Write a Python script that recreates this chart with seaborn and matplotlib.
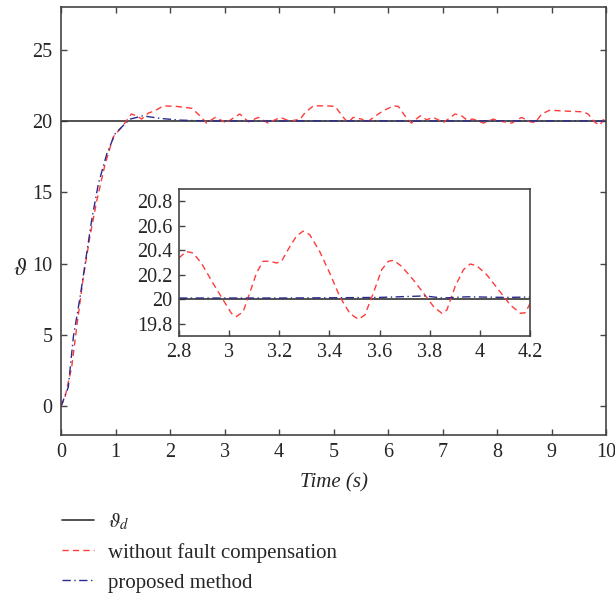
import matplotlib
matplotlib.use("Agg")
import matplotlib.pyplot as plt
import seaborn as sns

# reference value
t_ref = [0, 10]
v_ref = [20, 20]

# without fault compensation
t_nofc = [0, 0.073, 0.196, 0.288, 0.41, 0.53, 0.655, 0.81, 0.96, 1.14,
          1.29, 1.39, 1.48, 1.6, 1.72, 1.88, 2.12, 2.4, 2.55, 2.67,
          2.83, 2.92, 3.04, 3.13, 3.28, 3.44, 3.62, 3.8, 4.02, 4.2,
          4.39, 4.48, 4.63, 4.87, 5.03, 5.18, 5.27, 5.36, 5.52, 5.61,
          5.73, 5.91, 6.1, 6.19, 6.31, 6.43, 6.59, 6.71, 6.83, 7.02,
          7.23, 7.35, 7.44, 7.56, 7.75, 7.93, 8.12, 8.27, 8.45, 8.61,
          8.7, 8.82, 8.97, 9.16, 9.58, 9.67, 9.8, 9.89, 9.95, 10.0]
v_nofc = [0, 0.65, 2.76, 5.56, 9.07, 11.9, 14.4, 17.0, 18.9, 19.7,
          20.5, 20.37, 20.14, 20.56, 20.72, 21.07, 21.03, 20.9, 20.37, 19.86,
          20.26, 20.1, 19.86, 20.14, 20.5, 19.95, 20.26, 19.86, 20.26, 20.0,
          20.14, 20.6, 21.07, 21.07, 21.03, 20.26, 19.9, 20.26, 20.14, 19.9,
          20.26, 20.72, 21.07, 21.03, 20.37, 19.86, 20.37, 20.1, 20.26, 19.9,
          20.5, 20.37, 20.1, 20.14, 19.86, 20.14, 19.95, 19.86, 20.26, 19.95,
          19.9, 20.5, 20.77, 20.72, 20.65, 20.5, 19.9, 19.72, 20.1, 20.0]

# proposed method
t_prop = [0, 0.134, 0.226, 0.35, 0.47, 0.56, 0.685, 0.84, 0.99, 1.17,
          1.27, 1.5, 1.82, 2.18, 2.6, 3.5, 5.0, 6.5, 8.0, 10.0]
v_prop = [0, 1.36, 4.86, 7.67, 10.7, 13.0, 15.6, 17.7, 19.1, 19.8,
          20.14, 20.37, 20.19, 20.07, 20.02, 20.0, 20.02, 20.0, 20.02, 20.0]

# zoomed view
t_zoom_nofc = [2.8, 2.829, 2.856, 2.889, 2.936, 2.976, 3.009, 3.029, 3.056, 3.082,
               3.109, 3.135, 3.162, 3.189, 3.209, 3.235, 3.268, 3.295, 3.321, 3.361,
               3.401, 3.441, 3.481, 3.515, 3.541, 3.575, 3.608, 3.635, 3.655, 3.688,
               3.734, 3.775, 3.815, 3.848, 3.868, 3.901, 3.934, 3.961, 3.987, 4.027,
               4.074, 4.121, 4.161, 4.181, 4.2]
v_zoom_nofc = [20.337, 20.39, 20.378, 20.296, 20.13, 19.995, 19.885, 19.858, 19.899, 20.05,
               20.214, 20.31, 20.31, 20.296, 20.31, 20.405, 20.515, 20.556, 20.528, 20.39,
               20.214, 20.022, 19.885, 19.836, 19.871, 20.05, 20.241, 20.31, 20.318, 20.268,
               20.159, 20.05, 19.94, 19.885, 19.912, 20.104, 20.241, 20.288, 20.274, 20.2,
               20.077, 19.953, 19.885, 19.89, 19.967]
t_zoom_prop = [2.8, 3.0, 3.2, 3.4, 3.6, 3.78, 3.85, 3.95, 4.1, 4.2]
v_zoom_prop = [20.01, 20.01, 20.01, 20.012, 20.015, 20.027, 20.01, 20.02, 20.015, 20.018]

sns.set_style("ticks")
plt.rcParams['font.family'] = ['Liberation Serif', 'DejaVu Serif']
plt.rcParams['mathtext.fontset'] = 'stix'
plt.rcParams['xtick.direction'] = 'in'
plt.rcParams['ytick.direction'] = 'in'

c_ref = '#333333'
c_red = '#ff3b3b'
c_blue = '#2b2b8f'
edge = '#444444'
red_ls = (0, (4.5, 3))
blue_ls = (0, (6, 2.5, 1, 2.5))

fig = plt.figure(figsize=(6.15, 5.97), dpi=100)
ax = fig.add_axes([0.0992, 0.2714, 0.8862, 0.7169])

sns.lineplot(x=t_ref, y=v_ref, ax=ax, color=c_ref, lw=1.2, label=r'$\vartheta_d$')
sns.lineplot(x=t_nofc, y=v_nofc, ax=ax, color=c_red, lw=1.0,
             label='without fault compensation', linestyle=red_ls)
sns.lineplot(x=t_prop, y=v_prop, ax=ax, color=c_blue, lw=1.0,
             label='proposed method', linestyle=blue_ls)

ax.set_xlim(0, 10)
ax.set_ylim(-2, 28)
ax.set_xticks(range(0, 11))
ax.set_yticks([0, 5, 10, 15, 20, 25])
ax.tick_params(labelsize=14.5, length=4, width=1, color=edge,
               top=True, right=True, pad=6)
ax.set_xlabel('Time (s)', fontsize=15, fontstyle='italic', labelpad=8)
ax.set_ylabel(r'$\vartheta$', fontsize=17, rotation=0, va='center', ha='center')
ax.yaxis.set_label_coords(-0.075, 0.386)
for s in ax.spines.values():
    s.set_color(edge)
    s.set_linewidth(1.2)

handles, labels = ax.get_legend_handles_labels()
ax.get_legend().remove()
fig.legend(handles, labels, loc='upper left', bbox_to_anchor=(0.1, 0.143),
           frameon=False, fontsize=15, handlelength=1.55, handletextpad=0.7,
           labelspacing=0.5, borderpad=0, borderaxespad=0)

# inset
axin = fig.add_axes([0.291, 0.4372, 0.571, 0.2462])
sns.lineplot(x=t_ref, y=v_ref, ax=axin, color=c_ref, lw=1.2)
sns.lineplot(x=t_zoom_nofc, y=v_zoom_nofc, ax=axin, color=c_red, lw=1.0,
             linestyle=red_ls)
sns.lineplot(x=t_zoom_prop, y=v_zoom_prop, ax=axin, color=c_blue, lw=1.0,
             linestyle=blue_ls)
axin.set_xlim(2.8, 4.2)
axin.set_ylim(19.7, 20.9)
axin.set_xticks([2.8, 3.0, 3.2, 3.4, 3.6, 3.8, 4.0, 4.2])
axin.set_xticklabels(['2.8', '3', '3.2', '3.4', '3.6', '3.8', '4', '4.2'])
axin.set_yticks([19.8, 20.0, 20.2, 20.4, 20.6, 20.8])
axin.set_yticklabels(['19.8', '20', '20.2', '20.4', '20.6', '20.8'])
axin.tick_params(labelsize=14.5, length=4, width=1, color=edge, pad=5)
for s in axin.spines.values():
    s.set_color(edge)
    s.set_linewidth(1.2)

fig.savefig('out.png', dpi=100)
